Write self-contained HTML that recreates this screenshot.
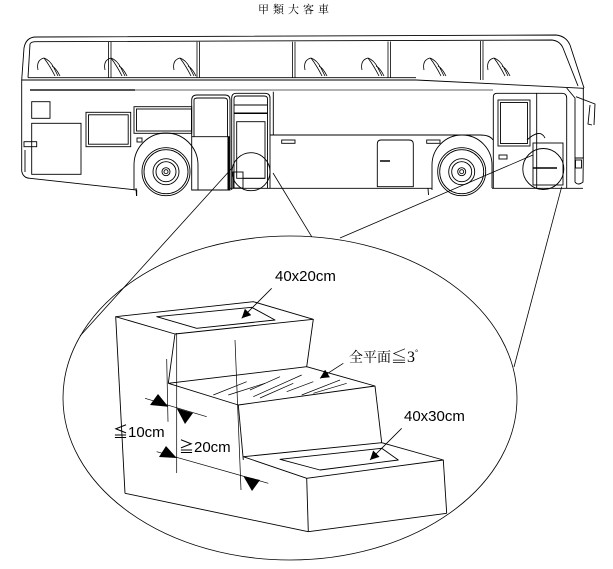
<!DOCTYPE html>
<html><head><meta charset="utf-8"><style>
html,body{margin:0;padding:0;background:#fff;}
svg{display:block;}
</style></head><body>
<svg width="613" height="569" viewBox="0 0 613 569" xmlns="http://www.w3.org/2000/svg">
<defs>
<marker id="ah" viewBox="0 0 10 10" refX="10" refY="5" markerWidth="9" markerHeight="9" orient="auto" markerUnits="userSpaceOnUse"><path d="M0,0 L10,5 L0,10 z" fill="#000"/></marker>
</defs>
<text x="258" y="13" font-family="'Liberation Serif','Noto Serif CJK SC','Noto Sans CJK TC',serif" font-size="11" letter-spacing="4">甲類大客車</text>

<g fill="none" stroke="#000" stroke-width="0.9">
<path d="M21.7,80 L24,48 Q26,37 36,37 L556,35 Q566,36 570,45 L584,88"/>
<path d="M28,77.7 L30,44 Q31,41.7 36,41.7 L552,40 Q560,41 563,48 L578,86"/>
<line x1="21.7" y1="80" x2="416" y2="80"/>
<line x1="416" y1="80" x2="584" y2="88.3"/>
<line x1="28" y1="77.7" x2="416" y2="77.7"/>
<g stroke-width="0.8">
<line x1="108.5" y1="41.7" x2="108.5" y2="78"/><line x1="111" y1="41.7" x2="111" y2="78"/>
<line x1="197" y1="41.7" x2="197" y2="78"/><line x1="199.5" y1="41.7" x2="199.5" y2="78"/>
<line x1="292.5" y1="41.7" x2="292.5" y2="78"/><line x1="295" y1="41.7" x2="295" y2="78"/>
<line x1="388" y1="41.5" x2="388" y2="78"/><line x1="390.5" y1="41.5" x2="390.5" y2="78"/>
<line x1="480.5" y1="41" x2="480.5" y2="80"/><line x1="483" y1="41" x2="483" y2="80"/>
</g>
<g stroke-width="0.8">
<path d="M38,70 Q36,60 44,58 Q50,60 54,68 L58,76 M44,58 Q50,66 55,76 M52,66 Q56,68 60,76"/>
<path d="M105,70 Q103,60 111,58 Q117,60 121,68 L125,76 M111,58 Q117,66 122,76 M119,66 Q123,68 127,76"/>
<path d="M174,70 Q172,60 180,58 Q186,60 190,68 L194,76 M180,58 Q186,66 191,76 M188,66 Q192,68 196,76"/>
<path d="M305,70 Q303,60 311,58 Q317,60 321,68 L325,76 M311,58 Q317,66 322,76 M319,66 Q323,68 327,76"/>
<path d="M362,70 Q360,60 368,58 Q374,60 378,68 L382,76 M368,58 Q374,66 379,76 M376,66 Q380,68 384,76"/>
<path d="M424,70 Q422,60 430,58 Q436,60 440,68 L444,76 M430,58 Q436,66 441,76 M438,66 Q442,68 446,76"/>
<path d="M488,70 Q486,60 494,58 Q500,60 504,68 L508,76 M494,58 Q500,66 505,76 M502,66 Q506,68 510,76"/>
</g>
<line x1="30" y1="90" x2="135" y2="90" stroke-width="2" stroke="#555"/>
<line x1="135" y1="90" x2="493" y2="90" stroke-width="1.6" stroke="#999"/>
<path d="M21.7,80 L21.7,171 Q23,178 30,178.3 L136.7,190 L136.7,196"/>
<line x1="25" y1="150" x2="25" y2="172"/>
<rect x="31.7" y="101.7" width="18.3" height="16.6"/>
<rect x="31.7" y="123.3" width="49.3" height="51"/>
<rect x="24" y="141.7" width="12.7" height="5"/>
<rect x="86" y="112.3" width="44.7" height="34.4"/><rect x="88.5" y="114.8" width="39.7" height="29.4"/>
<rect x="134" y="106.7" width="57.7" height="26.6"/><rect x="136.5" y="109" width="55" height="22"/>
<rect x="137" y="138" width="5" height="4"/>
<path d="M134,190 L134,165 A32,32 0 0 1 198,165 L198,190"/>
<circle cx="166" cy="171.7" r="24"/><circle cx="166" cy="171.7" r="22"/>
<circle cx="166" cy="171.7" r="13"/><circle cx="166" cy="171.7" r="10"/>
<circle cx="166" cy="171.7" r="4"/><circle cx="166" cy="171.7" r="2"/>
<path d="M191.7,190 L191.7,100 Q191.7,95 197,95 L225,95 Q230,95 230,100 L230,190 Z"/>
<path d="M194,136.7 L194,100 Q194,98 198,98 L224,98 Q227.5,98 227.5,101 L227.5,136.7"/>
<line x1="191.7" y1="136.7" x2="230" y2="136.7"/>
<line x1="228.5" y1="136.7" x2="228.5" y2="190" stroke-width="2"/>
<path d="M231.7,190 L231.7,98 Q231.7,93.3 236,93.3 L265,93.3 Q270,93.3 270,98 L270,188.3"/>
<path d="M234,188 L234,99 Q234,96 237,96 L264,96 Q267.5,96 267.5,99 L267.5,188"/>
<line x1="234" y1="105" x2="267.5" y2="105"/><line x1="234" y1="113.3" x2="267.5" y2="113.3" stroke-width="1.5"/>
<rect x="236.7" y="121.7" width="28.3" height="56.6"/>
<rect x="233" y="172" width="10" height="16"/>
<line x1="243" y1="178.3" x2="265" y2="178.3"/>
<circle cx="251" cy="171.7" r="19"/>
<line x1="273.3" y1="91.7" x2="273.3" y2="135"/>
<path d="M270,135 L480,135 Q490,135 493,140"/>
<line x1="230" y1="188.3" x2="432" y2="188.3"/>
<rect x="281.7" y="140" width="13.3" height="3.3"/>
<path d="M377.3,186.7 L377.3,144 Q377.3,140 381,140 L409,140 Q413.3,140 413.3,144 L413.3,186.7 Z"/>
<line x1="380" y1="161" x2="390" y2="161" stroke-width="1.5"/>
<rect x="426.7" y="140" width="13.3" height="3.3"/>
<path d="M432,190 L432,165 A30,30 0 0 1 492,165 L492,188"/>
<circle cx="461.7" cy="171.7" r="24"/><circle cx="461.7" cy="171.7" r="22"/>
<circle cx="461.7" cy="171.7" r="13"/><circle cx="461.7" cy="171.7" r="10"/>
<circle cx="461.7" cy="171.7" r="4"/><circle cx="461.7" cy="171.7" r="2"/>
<line x1="492" y1="188.3" x2="583" y2="188.3"/>
<line x1="428" y1="188" x2="428.5" y2="195"/><line x1="136" y1="188" x2="136.5" y2="196"/>
<path d="M493.3,188 L493.3,97 Q493.3,93.3 497,93.3 L536.7,93.3 L536.7,188"/>
<rect x="498" y="100" width="32" height="46"/><rect x="500.5" y="102.5" width="27" height="41"/>
<rect x="499" y="155" width="8" height="4"/>
<path d="M536.7,93.3 L562,93.3 Q566.7,93.3 566.7,98 L566.7,188"/>
<rect x="533" y="143" width="30" height="42"/>
<line x1="533" y1="168" x2="557" y2="168" stroke-width="1.5"/>
<path d="M527,140 Q540,128 545,138"/>
<circle cx="543.3" cy="169" r="20.5"/>
<path d="M566.7,88 L575,98 L575,158 M583.3,88 L583.3,158"/>
<path d="M575,158 L575,182 Q578,186 583,182 L583.3,158 Z"/>
<rect x="575.5" y="160" width="6" height="8"/>
<path d="M576,96.7 L595,104 L594,125 M590,105 L588,124 L592,125"/>
</g>

<g stroke="#000" stroke-width="0.8" fill="none">
<line x1="233" y1="167" x2="80" y2="336"/>
<line x1="273" y1="173" x2="311.7" y2="236.7"/>
<line x1="533" y1="155" x2="340" y2="238"/>
<line x1="561.7" y1="186.7" x2="514" y2="367"/>
<ellipse cx="290" cy="398" rx="227" ry="162"/>
</g>

<g stroke="#000" stroke-width="0.9" fill="none" stroke-linejoin="round">
<polygon points="115.7,316.7 253.3,301.7 313.3,319.3 175,334"/>
<polygon points="156.7,316.7 251.7,307.3 275,320 196.7,328.3"/>
<line x1="313.3" y1="319.3" x2="306.7" y2="366.7"/>
<line x1="175" y1="334" x2="168.3" y2="383.3"/>
<polyline points="168.3,383.3 306.7,366.7 375,386 238.3,405 168.3,383.3"/>
<line x1="238.3" y1="405" x2="243.3" y2="460"/>
<line x1="375" y1="386" x2="381.7" y2="442.7"/>
<polyline points="243.3,456.7 381.7,442.7 443.3,460 306.7,478.3 243.3,456.7"/>
<polygon points="280,459.3 381.7,448.3 398.3,460 320,470"/>
<line x1="306.7" y1="478.3" x2="308.3" y2="531.7"/>
<line x1="443.3" y1="460" x2="446.7" y2="513.3"/>
<line x1="308.3" y1="531.7" x2="446.7" y2="513.3"/>
<line x1="115.7" y1="316.7" x2="125" y2="493.3"/>
<line x1="125" y1="493.3" x2="308.3" y2="531.7"/>
<g stroke-width="0.7">
<line x1="166.7" y1="359" x2="168" y2="421.7"/>
<line x1="176.7" y1="333" x2="176.7" y2="473"/>
<line x1="235" y1="340" x2="241" y2="490"/>
<line x1="213.3" y1="395" x2="246.7" y2="381.7"/>
<line x1="228.3" y1="395" x2="265" y2="383.3"/>
<line x1="250" y1="390" x2="280" y2="376.7"/>
<line x1="253.3" y1="396.7" x2="301.7" y2="375"/>
<line x1="260" y1="398" x2="293.3" y2="383.3"/>
<line x1="286.7" y1="391.7" x2="313.3" y2="381.7"/>
<line x1="301.7" y1="395" x2="340" y2="380"/>
<line x1="313.3" y1="393.3" x2="346.7" y2="383.3"/>
<line x1="145" y1="398.3" x2="206.7" y2="416.7"/>
<line x1="156.7" y1="451.7" x2="268.3" y2="483.3"/>
</g>
<line x1="271.7" y1="288.3" x2="241.7" y2="318.3" stroke-width="0.8" marker-end="url(#ah)"/>
<line x1="343.3" y1="363.3" x2="320" y2="378.3" stroke-width="0.8" marker-end="url(#ah)"/>
<line x1="401.7" y1="428.3" x2="370" y2="460" stroke-width="0.8" marker-end="url(#ah)"/>
</g>
<g fill="#000">
<polygon points="168.3,406.7 150,405 158,394"/>
<polygon points="176.7,408.3 193,413 185,424"/>
<polygon points="176.7,458 159,457 166,446"/>
<polygon points="243.3,476 260,480 252,491"/>
</g>

<g font-family="'Liberation Sans','Noto Sans CJK TC',sans-serif" fill="#000">
<text x="275" y="281" font-size="15">40x20cm</text>
<text x="404" y="421" font-size="15">40x30cm</text>
<text x="113" y="437" font-size="15">≦10cm</text>
<text x="179" y="452" font-size="15">≧20cm</text>
<text x="349" y="362" font-size="14" font-family="'Liberation Serif','Noto Serif CJK SC',serif">全平面<tspan font-size="16">≦3</tspan><tspan font-size="8" dy="-7">°</tspan></text>
</g>
</svg>
</body></html>
